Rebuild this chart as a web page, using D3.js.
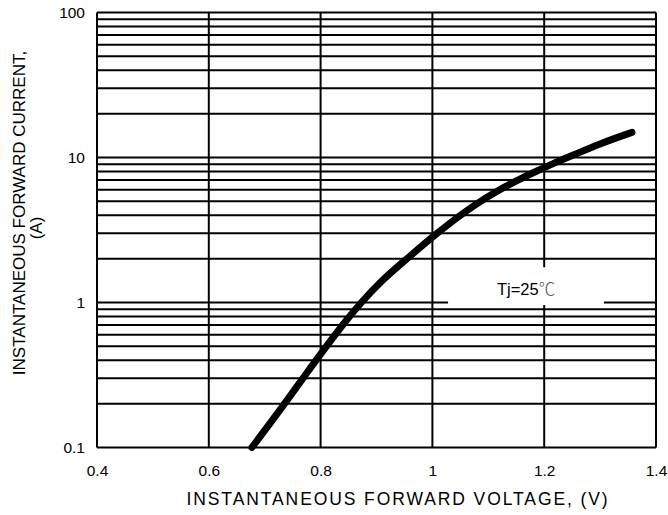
<!DOCTYPE html>
<html><head><meta charset="utf-8">
<script src="https://cdn.jsdelivr.net/npm/d3@7"></script>
<style>body{margin:0;background:#fff}svg{display:block}</style>
</head><body><svg id="c" width="668" height="515"></svg>
<script>
// Data (Tj = 25 °C)
const voltage = [0.677, 0.731, 0.767, 0.80, 0.847, 0.873, 0.91, 0.96, 1.008, 1.046, 1.076, 1.115, 1.153, 1.187, 1.216, 1.252, 1.30, 1.357];
const current = [0.1, 0.19, 0.295, 0.44, 0.76, 1.0, 1.41, 2.09, 2.99, 3.89, 4.7, 5.83, 6.97, 8.07, 9.08, 10.4, 12.4, 14.9];

const xTicks = [0.4, 0.6, 0.8, 1.0, 1.2, 1.4];
const xTickLabels = ["0.4", "0.6", "0.8", "1", "1.2", "1.4"];
const yTicks = [0.1, 1, 10, 100];
const yTickLabels = ["0.1", "1", "10", "100"];
const yGrid = [0.1,0.2,0.3,0.4,0.5,0.6,0.7,0.8,0.9,1,2,3,4,5,6,7,8,9,10,20,30,40,50,60,70,80,90,100];
const xTitle = "INSTANTANEOUS FORWARD VOLTAGE, (V)";
const yTitle1 = "INSTANTANEOUS FORWARD CURRENT,";
const yTitle2 = "(A)";
const noteText = "Tj=25";
const noteUnit = "\u2103";

const svg = d3.select("#c");
const m = {l: 97, t: 12.5, r: 656, b: 447.5};
const x = d3.scaleLinear().domain([0.4, 1.4]).range([m.l, m.r]);
const y = d3.scaleLog().domain([0.1, 100]).range([m.b, m.t]);
const font = "'Liberation Sans', Arial, sans-serif";

// grid
const g = svg.append("g");
g.selectAll("line.h").data(yGrid).join("line")
  .attr("x1", m.l).attr("x2", m.r)
  .attr("y1", d => y(d)).attr("y2", d => y(d))
  .attr("stroke", "#000").attr("stroke-width", 2);
g.selectAll("line.v").data(xTicks).join("line")
  .attr("x1", d => x(d)).attr("x2", d => x(d))
  .attr("y1", m.t).attr("y2", m.b)
  .attr("stroke", "#000").attr("stroke-width", 2);

// note box (white background hiding gridlines)
const boxX0 = x(1.028), boxX1 = x(1.307);
svg.append("rect")
  .attr("x", boxX0).attr("y", y(1.75))
  .attr("width", boxX1 - boxX0).attr("height", y(0.96) - y(1.75))
  .attr("fill", "#fff");
const note = svg.append("text")
  .attr("x", (boxX0 + boxX1) / 2).attr("y", y(1.12))
  .attr("text-anchor", "middle")
  .attr("font-family", font).attr("font-size", 16.5).attr("fill", "#000");
note.append("tspan").text(noteText);
note.append("tspan").attr("font-family", "'Noto Sans CJK SC', 'DejaVu Sans'")
  .attr("font-weight", 300).attr("fill", "#555").text(noteUnit);

// axes labels via d3 axes
const xAxis = d3.axisBottom(x).tickValues(xTicks)
  .tickFormat((d, i) => xTickLabels[i]).tickSize(0).tickPadding(17);
svg.append("g").attr("transform", `translate(0,${m.b})`).call(xAxis)
  .call(a => a.select(".domain").remove())
  .selectAll("text").attr("font-family", font).attr("font-size", 15.5).attr("fill", "#000");

const yAxis = d3.axisLeft(y).tickValues(yTicks)
  .tickFormat((d, i) => yTickLabels[i]).tickSize(0).tickPadding(12);
svg.append("g").attr("transform", `translate(${m.l},0)`).call(yAxis)
  .call(a => a.select(".domain").remove())
  .selectAll("text").attr("font-family", font).attr("font-size", 15.5).attr("fill", "#000");

// curve
const pts = voltage.map((v, i) => [v, current[i]]);
svg.append("path").datum(pts)
  .attr("d", d3.line().x(d => x(d[0])).y(d => y(d[1])).curve(d3.curveMonotoneX))
  .attr("fill", "none").attr("stroke", "#000").attr("stroke-width", 7)
  .attr("stroke-linecap", "round").attr("stroke-linejoin", "round");

// titles
svg.append("text").attr("x", 398).attr("y", 505).attr("text-anchor", "middle")
  .attr("font-family", font).attr("font-size", 17.5).attr("letter-spacing", 1.9)
  .attr("fill", "#000").text(xTitle);
svg.append("text").attr("transform", "translate(25,213) rotate(-90)").attr("text-anchor", "middle")
  .attr("font-family", font).attr("font-size", 17).attr("fill", "#000").text(yTitle1);
svg.append("text").attr("transform", "translate(42,228) rotate(-90)").attr("text-anchor", "middle")
  .attr("font-family", font).attr("font-size", 17).attr("fill", "#000").text(yTitle2);
</script></body></html>
